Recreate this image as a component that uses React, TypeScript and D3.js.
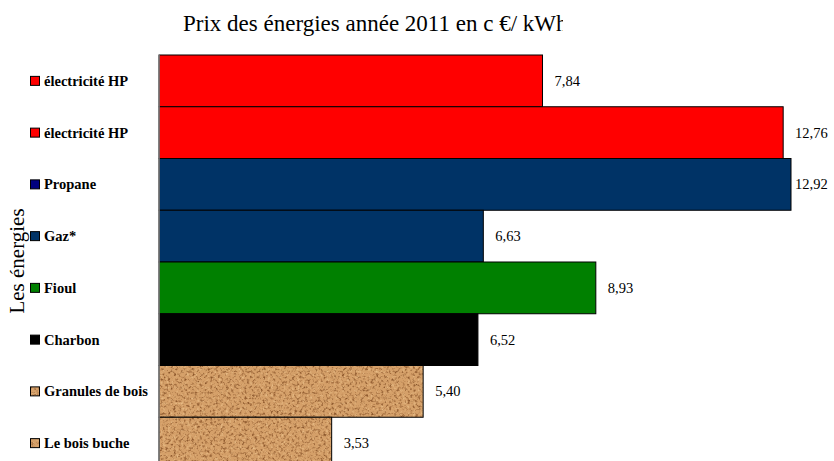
import React from "react";
import * as d3 from "d3";

const categories = [
  "électricité HP",
  "électricité HP",
  "Propane",
  "Gaz*",
  "Fioul",
  "Charbon",
  "Granules de bois",
  "Le bois buche",
];
const values = [7.84, 12.76, 12.92, 6.63, 8.93, 6.52, 5.4, 3.53];
const barColors = ["#FF0000", "#FF0000", "#003366", "#003366", "#008000", "#000000", "wood", "wood"];
const markerColors = ["#FF0000", "#FF0000", "#000080", "#003366", "#008000", "#000000", "wood", "wood"];
const title = "Prix des énergies année 2011 en c €/ kWh";
const axisTitle = "Les énergies";

const W = 834;
const H = 461;
const x0 = 159;
const fmt = (v: number) => v.toFixed(2).replace(".", ",");

export default function App() {
  const x = d3.scaleLinear().domain([0, 12.92]).range([x0, 791]);
  const y = d3
    .scaleBand<number>()
    .domain(categories.map((_, i) => i))
    .range([55, 55 + 51.75 * categories.length])
    .padding(0);

  const Box = ({ bx, by, bw, bh, c, sw }: { bx: number; by: number; bw: number; bh: number; c: string; sw: number }) =>
    c === "wood" ? (
      <g>
        <rect x={bx} y={by} width={bw} height={bh} fill="#D6A06A" filter="url(#cork)" />
        <rect x={bx} y={by} width={bw} height={bh} fill="none" stroke="#000" strokeWidth={sw} />
      </g>
    ) : (
      <rect x={bx} y={by} width={bw} height={bh} fill={c} stroke="#000" strokeWidth={sw} />
    );

  return (
    <svg
      width={W}
      height={H}
      style={{ position: "absolute", left: 0, top: 0, background: "#fff" }}
      fontFamily="'Liberation Serif', 'Times New Roman', serif"
    >
      <defs>
        <filter id="cork" x="0" y="0" width="1" height="1" colorInterpolationFilters="sRGB">
          <feTurbulence type="fractalNoise" baseFrequency="0.38" numOctaves={3} seed={7} result="n" />
          <feColorMatrix
            in="n"
            type="matrix"
            values="0 0 0 0 0.55  0 0 0 0 0.34  0 0 0 0 0.17  3 0 0 0 -1.5"
            result="dots"
          />
          <feColorMatrix
            in="n"
            type="matrix"
            values="0 0 0 0 0.92  0 0 0 0 0.76  0 0 0 0 0.55  0 -2.5 0 0 1.15"
            result="light"
          />
          <feFlood floodColor="#D5A069" result="base" />
          <feMerge result="m">
            <feMergeNode in="base" />
            <feMergeNode in="light" />
            <feMergeNode in="dots" />
          </feMerge>
          <feComposite in="m" in2="SourceGraphic" operator="in" />
        </filter>
        <clipPath id="titleClip">
          <rect x={0} y={0} width={563} height={50} />
        </clipPath>
      </defs>

      <text x={183} y={31} fontSize={23} clipPath="url(#titleClip)" fill="#000">
        {title}
      </text>

      {values.map((v, i) => (
        <Box key={"b" + i} bx={x(0)} by={y(i)!} bw={x(v) - x(0)} bh={y.bandwidth()} c={barColors[i]} sw={1} />
      ))}

      <line x1={x0} x2={x0} y1={55} y2={H} stroke="#808080" strokeWidth={1.5} />

      {values.map((v, i) => (
        <text
          key={"v" + i}
          x={Math.min(x(v) + 12, 795)}
          y={y(i)! + y.bandwidth() / 2}
          dy="0.35em"
          fontSize={14.5}
          fill="#000"
        >
          {fmt(v)}
        </text>
      ))}

      {categories.map((c, i) => {
        const cy = y(i)! + y.bandwidth() / 2;
        return (
          <g key={"l" + i}>
            <Box bx={30.5} by={cy - 4.5} bw={9} bh={9} c={markerColors[i]} sw={1} />
            <text x={44} y={cy} dy="0.35em" fontSize={14.5} fontWeight="bold" fill="#000">
              {c}
            </text>
          </g>
        );
      })}

      <text
        transform="translate(24,261) rotate(-90)"
        textAnchor="middle"
        fontSize={21}
        fill="#000"
      >
        {axisTitle}
      </text>
    </svg>
  );
}
